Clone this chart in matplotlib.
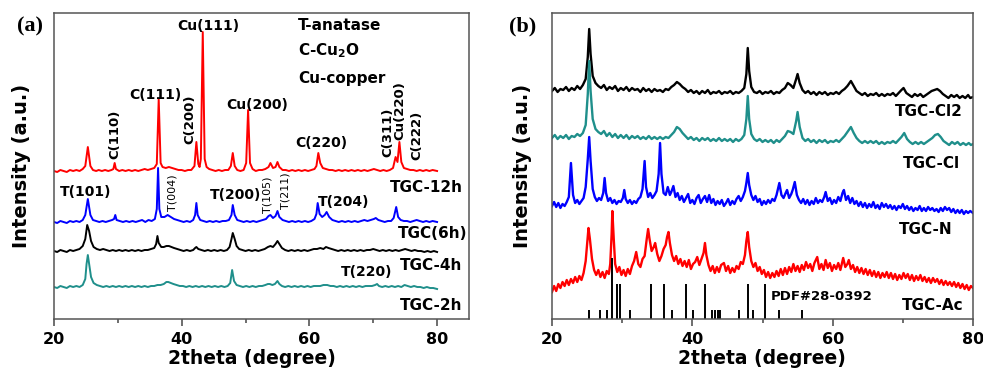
import numpy as np
import matplotlib
matplotlib.use("Agg")
from matplotlib import pyplot as plt

# panel (a): 2theta, intensity (offset, arbitrary units)
tgc_12h = [(20, 148), (20.5, 147), (21, 149), (21.5, 148), (22, 147), (22.5, 149), (23, 148), (23.5, 149),
           (24, 148), (24.5, 150), (24.9, 153), (25.3, 172), (25.7, 153), (26.1, 149), (26.6, 148), (27, 149),
           (27.5, 148), (28, 149), (28.5, 148), (29, 149), (29.3, 150), (29.5, 156), (29.7, 150), (30.2, 148),
           (30.7, 149), (31.2, 148), (31.7, 149), (32.2, 148), (32.7, 149), (33.2, 148), (33.7, 149), (34.2, 150),
           (34.7, 149), (35.2, 150), (35.7, 151), (36.1, 155), (36.4, 220), (36.7, 156), (37, 152), (37.5, 151),
           (38, 152), (38.5, 151), (39, 150), (39.5, 149), (40, 149), (40.5, 148), (41, 149), (41.5, 149),
           (42, 153), (42.3, 177), (42.6, 155), (42.8, 152), (43.0, 160), (43.3, 287), (43.6, 160), (43.9, 152),
           (44.3, 150), (44.8, 149), (45.3, 148), (45.8, 149), (46.3, 148), (46.8, 149), (47.3, 149), (47.7, 153),
           (48, 166), (48.3, 153), (48.7, 149), (49.2, 148), (49.7, 149), (50.1, 156), (50.4, 209), (50.7, 156),
           (51.1, 150), (51.6, 148), (52.1, 149), (52.6, 149), (53.1, 150), (53.6, 152), (53.9, 156), (54.3, 151),
           (54.7, 152), (55, 157), (55.3, 152), (55.8, 149), (56.3, 149), (56.8, 148), (57.3, 149), (57.8, 148),
           (58.3, 149), (58.8, 148), (59.3, 149), (59.8, 148), (60.3, 149), (60.8, 150), (61.1, 153), (61.4, 166),
           (61.7, 156), (62.1, 151), (62.6, 150), (63.1, 149), (63.6, 149), (64.1, 148), (64.6, 149), (65.1, 148),
           (65.6, 149), (66.1, 148), (66.6, 149), (67.1, 148), (67.6, 149), (68.1, 148), (68.6, 149), (69.1, 148),
           (69.6, 149), (70.1, 150), (70.6, 149), (71.1, 148), (71.6, 149), (72.1, 148), (72.6, 149), (73.1, 151),
           (73.5, 162), (73.8, 157), (74.1, 177), (74.4, 157), (74.8, 151), (75.3, 150), (75.8, 149), (76.3, 149),
           (76.8, 148), (77.3, 149), (77.8, 148), (78.3, 149), (78.8, 148), (79.3, 149), (80, 148)]

tgc_6h = [(20, 97), (20.5, 96), (21, 98), (21.5, 97), (22, 96), (22.5, 98), (23, 97), (23.5, 98), (24, 97),
          (24.5, 99), (24.9, 104), (25.3, 120), (25.7, 104), (26.1, 99), (26.6, 98), (27.1, 97), (27.6, 98),
          (28.1, 97), (28.6, 98), (29.1, 99), (29.4, 100), (29.6, 104), (29.8, 99), (30.3, 98), (30.8, 97),
          (31.3, 98), (31.8, 97), (32.3, 98), (32.8, 97), (33.3, 98), (33.8, 99), (34.3, 97), (34.8, 99),
          (35.3, 98), (35.8, 100), (36.1, 110), (36.3, 151), (36.5, 110), (36.8, 102), (37.3, 102), (37.8, 104),
          (38.3, 102), (38.8, 100), (39.3, 99), (39.8, 98), (40.3, 97), (40.8, 98), (41.3, 97), (41.8, 99),
          (42.1, 104), (42.3, 116), (42.5, 104), (42.9, 99), (43.4, 98), (43.9, 97), (44.4, 98), (44.9, 97),
          (45.4, 98), (45.9, 97), (46.4, 98), (46.9, 98), (47.4, 99), (47.8, 104), (48.0, 114), (48.3, 104),
          (48.7, 99), (49.2, 98), (49.7, 97), (50.2, 98), (50.7, 97), (51.2, 98), (51.7, 97), (52.2, 98),
          (52.7, 99), (53.2, 100), (53.6, 103), (53.9, 104), (54.3, 101), (54.7, 103), (55.0, 108), (55.3, 102),
          (55.8, 99), (56.3, 98), (56.8, 97), (57.3, 98), (57.8, 97), (58.3, 98), (58.8, 97), (59.3, 98),
          (59.8, 97), (60.3, 98), (60.8, 100), (61.1, 105), (61.3, 116), (61.6, 105), (62.0, 102), (62.4, 104),
          (62.7, 107), (63.1, 102), (63.6, 99), (64.1, 98), (64.6, 97), (65.1, 98), (65.6, 97), (66.1, 98),
          (66.6, 97), (67.1, 98), (67.6, 97), (68.1, 98), (68.6, 99), (69.1, 98), (69.6, 99), (70.1, 100),
          (70.4, 101), (70.8, 99), (71.3, 98), (71.8, 97), (72.3, 98), (72.8, 98), (73.2, 101), (73.6, 112),
          (73.9, 102), (74.3, 99), (74.8, 98), (75.3, 98), (75.8, 97), (76.3, 98), (76.8, 99), (77.3, 98),
          (77.8, 97), (78.3, 98), (78.8, 97), (79.3, 98), (80, 97)]

tgc_4h = [(20, 68), (20.5, 67), (21, 69), (21.5, 68), (22, 67), (22.5, 69), (23, 68), (23.5, 69), (24, 70),
          (24.5, 73), (24.9, 80), (25.2, 94), (25.5, 88), (25.8, 78), (26.2, 72), (26.7, 70), (27.2, 69),
          (27.7, 70), (28.2, 69), (28.7, 68), (29.2, 69), (29.7, 68), (30.2, 69), (30.7, 68), (31.2, 69),
          (31.7, 68), (32.2, 69), (32.7, 68), (33.2, 69), (33.7, 68), (34.2, 69), (34.7, 69), (35.2, 70),
          (35.7, 71), (36.0, 75), (36.2, 83), (36.4, 76), (36.8, 72), (37.2, 72), (37.6, 73), (38.0, 73),
          (38.4, 72), (38.8, 71), (39.3, 70), (39.8, 69), (40.3, 68), (40.8, 69), (41.3, 68), (41.8, 69),
          (42.1, 71), (42.3, 72), (42.6, 70), (43.1, 69), (43.6, 68), (44.1, 69), (44.6, 68), (45.1, 69),
          (45.6, 68), (46.1, 69), (46.6, 68), (47.1, 69), (47.5, 72), (47.8, 80), (48.0, 86), (48.3, 80),
          (48.6, 73), (49.0, 70), (49.5, 69), (50.0, 68), (50.5, 69), (51.0, 68), (51.5, 69), (52.0, 68),
          (52.5, 69), (53.0, 70), (53.5, 72), (53.9, 73), (54.3, 72), (54.7, 75), (55.0, 78), (55.3, 75),
          (55.7, 71), (56.2, 69), (56.7, 68), (57.2, 69), (57.7, 68), (58.2, 69), (58.7, 68), (59.2, 69),
          (59.7, 68), (60.2, 69), (60.7, 70), (61.2, 70), (61.7, 71), (62.2, 70), (62.6, 72), (63.0, 71),
          (63.5, 70), (64.0, 69), (64.5, 68), (65.0, 69), (65.5, 68), (66.0, 69), (66.5, 68), (67.0, 69),
          (67.5, 68), (68.0, 69), (68.5, 68), (69.0, 69), (69.5, 69), (70.0, 70), (70.5, 69), (71.0, 68),
          (71.5, 69), (72.0, 68), (72.5, 69), (73.0, 68), (73.5, 69), (74.0, 68), (74.5, 69), (75.0, 70),
          (75.5, 69), (76.0, 68), (76.5, 69), (77.0, 68), (77.5, 68), (78.0, 67), (78.5, 68), (79.0, 67),
          (79.5, 68), (80, 67)]

tgc_2h = [(20, 32), (20.5, 31), (21, 33), (21.5, 32), (22, 31), (22.5, 33), (23, 32), (23.5, 33), (24, 32),
          (24.5, 34), (24.9, 40), (25.1, 55), (25.3, 64), (25.5, 55), (25.8, 42), (26.2, 36), (26.7, 34),
          (27.2, 33), (27.7, 32), (28.2, 33), (28.7, 32), (29.2, 33), (29.7, 32), (30.2, 33), (30.7, 32),
          (31.2, 33), (31.7, 32), (32.2, 33), (32.7, 32), (33.2, 33), (33.7, 32), (34.2, 33), (34.7, 32),
          (35.2, 33), (35.7, 33), (36.2, 34), (36.7, 34), (37.2, 35), (37.6, 37), (37.9, 37), (38.3, 36),
          (38.7, 35), (39.2, 34), (39.7, 33), (40.2, 33), (40.7, 32), (41.2, 33), (41.7, 32), (42.2, 33),
          (42.7, 32), (43.2, 33), (43.7, 32), (44.2, 33), (44.7, 32), (45.2, 33), (45.7, 32), (46.2, 33),
          (46.7, 32), (47.2, 33), (47.6, 36), (47.9, 49), (48.2, 38), (48.6, 34), (49.1, 33), (49.6, 32),
          (50.1, 33), (50.6, 32), (51.1, 33), (51.6, 32), (52.1, 33), (52.6, 33), (53.1, 34), (53.5, 35),
          (53.8, 35), (54.2, 34), (54.6, 35), (55.0, 38), (55.3, 35), (55.7, 33), (56.2, 32), (56.7, 33),
          (57.2, 32), (57.7, 33), (58.2, 32), (58.7, 33), (59.2, 32), (59.7, 33), (60.2, 32), (60.7, 33),
          (61.2, 33), (61.7, 33), (62.2, 34), (62.8, 34), (63.3, 33), (63.8, 33), (64.3, 32), (64.8, 33),
          (65.3, 32), (65.8, 33), (66.3, 32), (66.8, 33), (67.3, 32), (67.8, 33), (68.3, 32), (68.8, 33),
          (69.3, 33), (69.8, 33), (70.3, 34), (70.6, 35), (70.9, 33), (71.4, 32), (71.9, 33), (72.4, 32),
          (72.9, 33), (73.4, 32), (73.9, 33), (74.4, 32), (74.9, 34), (75.4, 33), (75.9, 32), (76.4, 33),
          (76.9, 32), (77.4, 32), (77.9, 31), (78.4, 32), (78.9, 31), (79.4, 31), (80, 30)]

# panel (b)
tgc_cl2 = [(20.0, 228), (20.4, 231), (20.8, 227), (21.2, 230), (21.6, 229), (22.0, 232), (22.4, 228), (22.8, 231),
           (23.2, 229), (23.6, 233), (24.0, 230), (24.4, 234), (24.8, 240), (25.1, 262), (25.3, 290), (25.5, 265),
           (25.8, 243), (26.2, 236), (26.6, 233), (27.0, 231), (27.4, 234), (27.8, 229), (28.2, 232), (28.6, 230),
           (29.0, 233), (29.4, 228), (29.8, 231), (30.2, 229), (30.6, 232), (31.0, 228), (31.4, 231), (31.8, 229),
           (32.2, 230), (32.6, 227), (33.0, 231), (33.4, 228), (33.8, 230), (34.2, 227), (34.6, 230), (35.0, 228),
           (35.4, 229), (35.8, 227), (36.2, 230), (36.6, 229), (37.0, 232), (37.4, 234), (37.8, 237), (38.2, 235),
           (38.6, 232), (39.0, 230), (39.4, 227), (39.8, 229), (40.2, 226), (40.6, 228), (41.0, 225), (41.4, 228),
           (41.8, 226), (42.2, 229), (42.6, 225), (43.0, 227), (43.4, 226), (43.8, 228), (44.2, 225), (44.6, 227),
           (45.0, 226), (45.4, 228), (45.8, 225), (46.2, 227), (46.6, 226), (47.0, 228), (47.4, 231), (47.7, 245),
           (47.9, 271), (48.1, 248), (48.4, 232), (48.8, 227), (49.2, 226), (49.6, 228), (50.0, 225), (50.4, 227),
           (50.8, 226), (51.2, 228), (51.6, 225), (52.0, 227), (52.4, 226), (52.8, 229), (53.2, 231), (53.6, 236),
           (54.0, 234), (54.4, 231), (54.8, 240), (55.0, 245), (55.3, 236), (55.7, 229), (56.1, 226), (56.5, 228),
           (56.9, 225), (57.3, 227), (57.7, 224), (58.1, 227), (58.5, 225), (58.9, 227), (59.3, 224), (59.7, 226),
           (60.1, 225), (60.5, 227), (60.9, 225), (61.3, 228), (61.7, 230), (62.1, 233), (62.6, 238), (63.0, 233),
           (63.4, 228), (63.8, 226), (64.2, 224), (64.6, 226), (65.0, 223), (65.4, 225), (65.8, 224), (66.2, 226),
           (66.6, 223), (67.0, 225), (67.4, 223), (67.8, 225), (68.2, 224), (68.6, 226), (69.0, 223), (69.4, 226),
           (69.8, 229), (70.1, 231), (70.5, 226), (70.9, 224), (71.3, 222), (71.7, 225), (72.1, 223), (72.5, 225),
           (72.9, 222), (73.3, 224), (73.7, 226), (74.1, 228), (74.5, 229), (74.9, 230), (75.3, 228), (75.7, 225),
           (76.1, 223), (76.5, 221), (76.9, 224), (77.3, 222), (77.7, 224), (78.1, 221), (78.5, 223), (78.9, 221),
           (79.3, 224), (79.6, 221), (80.0, 222)]

tgc_cl = [(20.0, 181), (20.4, 184), (20.8, 180), (21.2, 183), (21.6, 181), (22.0, 184), (22.4, 180), (22.8, 183),
          (23.2, 182), (23.6, 185), (24.0, 183), (24.4, 186), (24.8, 194), (25.1, 225), (25.3, 258), (25.5, 228),
          (25.8, 200), (26.2, 190), (26.6, 187), (27.0, 185), (27.4, 188), (27.8, 183), (28.2, 186), (28.6, 182),
          (29.0, 185), (29.4, 181), (29.8, 184), (30.2, 181), (30.6, 184), (31.0, 180), (31.4, 183), (31.8, 181),
          (32.2, 183), (32.6, 180), (33.0, 182), (33.4, 180), (33.8, 183), (34.2, 180), (34.6, 182), (35.0, 180),
          (35.4, 182), (35.8, 180), (36.2, 182), (36.6, 181), (37.0, 184), (37.4, 187), (37.8, 192), (38.2, 190),
          (38.6, 186), (39.0, 183), (39.4, 180), (39.8, 182), (40.2, 179), (40.6, 181), (41.0, 178), (41.4, 181),
          (41.8, 179), (42.2, 181), (42.6, 178), (43.0, 180), (43.4, 178), (43.8, 181), (44.2, 178), (44.6, 180),
          (45.0, 178), (45.4, 180), (45.8, 177), (46.2, 180), (46.6, 178), (47.0, 180), (47.4, 184), (47.7, 200),
          (47.9, 223), (48.1, 200), (48.4, 185), (48.8, 180), (49.2, 178), (49.6, 180), (50.0, 177), (50.4, 179),
          (50.8, 177), (51.2, 179), (51.6, 176), (52.0, 179), (52.4, 177), (52.8, 180), (53.2, 183), (53.6, 188),
          (54.0, 187), (54.4, 185), (54.8, 198), (55.0, 207), (55.3, 192), (55.7, 181), (56.1, 178), (56.5, 180),
          (56.9, 177), (57.3, 179), (57.7, 176), (58.1, 179), (58.5, 177), (58.9, 179), (59.3, 176), (59.7, 178),
          (60.1, 177), (60.5, 179), (60.9, 177), (61.3, 180), (61.7, 183), (62.1, 187), (62.6, 192), (63.0, 186),
          (63.4, 181), (63.8, 178), (64.2, 176), (64.6, 178), (65.0, 176), (65.4, 178), (65.8, 176), (66.2, 178),
          (66.6, 175), (67.0, 177), (67.4, 175), (67.8, 177), (68.2, 176), (68.6, 178), (69.0, 176), (69.4, 179),
          (69.8, 182), (70.2, 186), (70.6, 180), (71.0, 177), (71.4, 175), (71.8, 177), (72.2, 175), (72.6, 177),
          (73.0, 175), (73.4, 177), (73.8, 179), (74.2, 181), (74.6, 184), (75.0, 185), (75.4, 182), (75.8, 178),
          (76.2, 176), (76.6, 174), (77.0, 177), (77.4, 175), (77.8, 177), (78.2, 174), (78.6, 176), (79.0, 174),
          (79.4, 176), (79.7, 174), (80.0, 175)]

tgc_n = [(20.0, 113), (20.3, 117), (20.6, 112), (20.9, 116), (21.2, 111), (21.5, 115), (21.8, 113), (22.1, 117),
         (22.4, 122), (22.7, 156), (23.0, 124), (23.3, 116), (23.6, 119), (23.9, 115), (24.2, 118), (24.5, 121),
         (24.8, 132), (25.1, 160), (25.3, 182), (25.5, 158), (25.8, 130), (26.1, 122), (26.4, 118), (26.7, 121),
         (27.0, 119), (27.3, 126), (27.5, 141), (27.7, 126), (28.0, 118), (28.3, 121), (28.6, 116), (28.9, 119),
         (29.2, 115), (29.5, 118), (29.8, 117), (30.1, 121), (30.3, 129), (30.5, 120), (30.8, 116), (31.1, 119),
         (31.4, 115), (31.7, 118), (32.0, 116), (32.3, 120), (32.6, 122), (32.9, 130), (33.2, 158), (33.4, 132),
         (33.7, 122), (34.0, 126), (34.3, 121), (34.6, 124), (34.9, 128), (35.2, 145), (35.4, 176), (35.6, 145),
         (35.9, 126), (36.2, 124), (36.5, 132), (36.8, 124), (37.0, 127), (37.3, 133), (37.6, 122), (37.9, 126),
         (38.2, 119), (38.5, 123), (38.8, 117), (39.1, 121), (39.4, 125), (39.7, 116), (40.0, 119), (40.3, 115),
         (40.6, 121), (40.9, 124), (41.2, 116), (41.5, 120), (41.8, 123), (42.1, 117), (42.4, 124), (42.7, 116),
         (43.0, 120), (43.3, 114), (43.6, 118), (43.9, 115), (44.2, 119), (44.5, 113), (44.8, 116), (45.1, 120),
         (45.4, 114), (45.7, 118), (46.0, 115), (46.3, 120), (46.6, 123), (46.9, 118), (47.2, 122), (47.5, 128),
         (47.7, 136), (47.9, 146), (48.1, 134), (48.4, 124), (48.7, 119), (49.0, 123), (49.3, 117), (49.6, 120),
         (49.9, 114), (50.2, 118), (50.5, 115), (50.8, 119), (51.1, 116), (51.4, 120), (51.7, 118), (52.0, 124),
         (52.4, 136), (52.7, 124), (53.0, 121), (53.3, 126), (53.5, 129), (53.8, 121), (54.1, 125), (54.3, 129),
         (54.6, 137), (54.9, 124), (55.2, 119), (55.5, 116), (55.8, 120), (56.1, 115), (56.4, 119), (56.7, 114),
         (57.0, 118), (57.3, 115), (57.6, 121), (57.9, 116), (58.2, 119), (58.5, 117), (58.8, 122), (59.0, 127),
         (59.3, 118), (59.6, 121), (59.9, 115), (60.2, 119), (60.5, 116), (60.8, 122), (61.1, 118), (61.4, 126),
         (61.6, 129), (61.9, 119), (62.2, 123), (62.5, 116), (62.8, 121), (63.1, 115), (63.4, 118), (63.7, 113),
         (64.0, 117), (64.3, 112), (64.6, 116), (64.9, 111), (65.2, 115), (65.5, 112), (65.8, 117), (66.1, 111),
         (66.4, 114), (66.7, 110), (67.0, 116), (67.3, 112), (67.6, 115), (67.9, 111), (68.2, 114), (68.5, 110),
         (68.8, 113), (69.1, 109), (69.4, 113), (69.7, 111), (70.0, 115), (70.3, 110), (70.6, 113), (70.9, 109),
         (71.2, 112), (71.5, 108), (71.8, 111), (72.1, 109), (72.4, 113), (72.7, 108), (73.0, 111), (73.3, 108),
         (73.6, 112), (73.9, 109), (74.2, 111), (74.5, 108), (74.8, 110), (75.1, 107), (75.4, 111), (75.7, 108),
         (76.0, 112), (76.3, 109), (76.6, 111), (76.9, 107), (77.2, 110), (77.5, 106), (77.8, 109), (78.1, 106),
         (78.4, 109), (78.7, 105), (79.0, 108), (79.3, 106), (79.6, 108), (80.0, 106)]

tgc_ac = [(20.0, 27), (20.3, 33), (20.6, 28), (20.9, 35), (21.2, 31), (21.5, 37), (21.8, 33), (22.1, 39), (22.4, 34),
          (22.7, 40), (23.0, 36), (23.3, 42), (23.6, 37), (23.9, 43), (24.2, 39), (24.5, 46), (24.8, 58), (25.0, 75),
          (25.2, 91), (25.4, 80), (25.7, 60), (26.0, 49), (26.3, 44), (26.6, 49), (26.9, 42), (27.2, 47), (27.5, 41),
          (27.8, 48), (28.1, 45), (28.3, 55), (28.5, 85), (28.6, 108), (28.8, 80), (29.0, 55), (29.3, 47), (29.6, 52),
          (29.9, 44), (30.2, 49), (30.5, 43), (30.8, 50), (31.1, 45), (31.4, 53), (31.7, 58), (32.0, 67), (32.3, 55),
          (32.6, 52), (32.9, 60), (33.2, 63), (33.5, 80), (33.7, 90), (33.9, 80), (34.2, 68), (34.5, 72), (34.7, 76),
          (35.0, 65), (35.3, 58), (35.6, 63), (35.9, 70), (36.2, 74), (36.4, 82), (36.6, 87), (36.8, 76), (37.1, 64),
          (37.4, 58), (37.7, 63), (38.0, 55), (38.3, 60), (38.6, 53), (38.9, 58), (39.2, 52), (39.5, 59), (39.8, 50),
          (40.1, 55), (40.4, 57), (40.7, 62), (41.0, 54), (41.3, 60), (41.6, 66), (41.8, 76), (42.0, 64), (42.3, 54),
          (42.6, 48), (42.9, 53), (43.2, 46), (43.5, 52), (43.8, 47), (44.1, 54), (44.5, 56), (44.8, 48), (45.1, 53),
          (45.4, 46), (45.7, 51), (46.0, 47), (46.3, 53), (46.6, 50), (46.9, 57), (47.2, 55), (47.5, 64), (47.7, 78),
          (47.9, 87), (48.1, 72), (48.4, 58), (48.7, 52), (49.0, 56), (49.3, 48), (49.6, 52), (49.9, 45), (50.2, 49),
          (50.5, 42), (50.8, 47), (51.1, 41), (51.4, 46), (51.7, 42), (52.0, 48), (52.3, 43), (52.6, 50), (52.9, 44),
          (53.2, 51), (53.5, 45), (53.8, 52), (54.1, 47), (54.4, 55), (54.7, 48), (55.0, 53), (55.3, 47), (55.6, 54),
          (55.9, 49), (56.2, 57), (56.5, 51), (56.8, 55), (57.1, 48), (57.4, 56), (57.8, 62), (58.1, 50), (58.4, 55),
          (58.7, 49), (59.0, 59), (59.3, 51), (59.6, 56), (59.9, 48), (60.2, 54), (60.5, 50), (60.8, 56), (61.1, 49),
          (61.5, 61), (61.8, 52), (62.1, 55), (62.3, 59), (62.6, 50), (62.9, 54), (63.2, 47), (63.5, 52), (63.8, 46),
          (64.1, 51), (64.4, 45), (64.7, 50), (65.0, 44), (65.3, 49), (65.6, 43), (65.9, 48), (66.2, 42), (66.5, 47),
          (66.8, 41), (67.1, 46), (67.4, 42), (67.7, 47), (68.0, 41), (68.3, 46), (68.6, 40), (68.9, 45), (69.2, 39),
          (69.5, 44), (69.8, 40), (70.1, 46), (70.4, 41), (70.7, 45), (71.0, 39), (71.3, 44), (71.6, 38), (71.9, 43),
          (72.2, 39), (72.5, 44), (72.8, 38), (73.1, 42), (73.4, 37), (73.7, 41), (74.0, 36), (74.3, 41), (74.6, 37),
          (74.9, 40), (75.2, 35), (75.5, 39), (75.8, 34), (76.1, 38), (76.4, 34), (76.7, 37), (77.0, 33), (77.3, 37),
          (77.6, 32), (77.9, 36), (78.2, 31), (78.5, 35), (78.8, 30), (79.1, 34), (79.4, 29), (79.7, 33), (80.0, 31)]

# PDF#28-0392 reference lines
pdf_pos = [25.3, 26.9, 27.9, 28.5, 29.3, 29.7, 31.1, 34.1, 35.9, 37.1, 39.1, 40.1, 41.8, 42.8, 43.3, 43.6, 44.0,
           46.6, 47.9, 48.7, 50.3, 52.3, 55.6]
pdf_int = [9, 9, 9, 61, 35, 35, 9, 35, 35, 9, 35, 9, 35, 9, 9, 9, 9, 9, 35, 9, 35, 9, 9]

teal = '#1f8f8b'
frame = '#555555'
font = 'DejaVu Sans'

W, H = 983, 377
fig = plt.figure(figsize=(W / 100, H / 100), dpi=100)
ax1 = fig.add_axes([54 / W, (H - 319) / H, (469 - 54) / W, (319 - 13) / H])
ax2 = fig.add_axes([552 / W, (H - 319) / H, (973 - 552) / W, (319 - 13) / H])


def draw(ax, data, color, lw):
    xs, ys = zip(*data)
    ax.plot(xs, ys, color=color, lw=lw)


draw(ax1, tgc_12h, 'red', 1.4)
draw(ax1, tgc_6h, 'blue', 1.4)
draw(ax1, tgc_4h, 'black', 1.4)
draw(ax1, tgc_2h, teal, 1.4)

draw(ax2, tgc_cl2, 'black', 1.7)
draw(ax2, tgc_cl, teal, 1.7)
draw(ax2, tgc_n, 'blue', 1.7)
draw(ax2, tgc_ac, 'red', 1.7)
ax2.vlines(pdf_pos, 0, pdf_int, color='black', lw=1.4)

ax1.set_xlim(20, 85)
ax2.set_xlim(20, 80)
for ax in (ax1, ax2):
    ax.set_ylim(0, 306)
    ax.set_yticks([])
    ax.set_xticks([20, 40, 60, 80])
    ax.set_xticks([30, 50, 70], minor=True)
    ax.tick_params(axis='x', which='major', length=5, width=1.2, color=frame, pad=4,
                   labelsize=11.5)
    ax.tick_params(axis='x', which='minor', length=3, width=1.2, color=frame)
    for lab in ax.get_xticklabels():
        lab.set_fontweight('bold')
        lab.set_family(font)
    for s in ax.spines.values():
        s.set_color(frame)
        s.set_linewidth(1.1)

# axis labels
for xc in (252, 762):
    fig.text(xc / W, 1 - 358 / H, '2theta (degree)', ha='center', va='center',
             fontsize=13.5, fontweight='bold', family=font)
for xc in (22, 522):
    fig.text(xc / W, 1 - 166 / H, 'Intensity (a.u.)', ha='center', va='center', rotation=90,
             fontsize=14, fontweight='bold', family=font)

fig.text(30 / W, 1 - 26 / H, '(a)', ha='center', va='center', fontsize=16, fontweight='bold',
         family='Liberation Serif')
fig.text(523 / W, 1 - 26 / H, '(b)', ha='center', va='center', fontsize=16, fontweight='bold',
         family='Liberation Serif')

lab = dict(fontweight='bold', family=font, va='center')

# panel (a) annotations
ax1.text(58.2, 293, 'T-anatase', ha='left', fontsize=11, **lab)
ax1.text(58.2, 268, r'C-Cu$_\mathbf{2}$O', ha='left', fontsize=11, **lab)
ax1.text(58.2, 240, 'Cu-copper', ha='left', fontsize=11, **lab)

ax1.text(44.2, 293, 'Cu(111)', ha='center', fontsize=10, **lab)
ax1.text(35.8, 224, 'C(111)', ha='center', fontsize=10, **lab)
ax1.text(51.8, 214, 'Cu(200)', ha='center', fontsize=10, **lab)
ax1.text(61.8, 176, 'C(220)', ha='center', fontsize=10, **lab)
ax1.text(41.3, 200, 'C(200)', ha='center', rotation=90, fontsize=9.5, **lab)
ax1.text(29.6, 185, 'C(110)', ha='center', rotation=90, fontsize=9.5, **lab)
ax1.text(72.3, 187, 'C(311)', ha='center', rotation=90, fontsize=9.5, **lab)
ax1.text(74.2, 208, 'Cu(220)', ha='center', rotation=90, fontsize=9.5, **lab)
ax1.text(76.9, 184, 'C(222)', ha='center', rotation=90, fontsize=9.5, **lab)

ax1.text(25.0, 127, 'T(101)', ha='center', fontsize=10, **lab)
ax1.text(48.5, 124, 'T(200)', ha='center', fontsize=10, **lab)
ax1.text(65.3, 117, 'T(204)', ha='center', fontsize=10, **lab)
ax1.text(68.9, 47, 'T(220)', ha='center', fontsize=10, **lab)
ax1.text(38.6, 126, 'T(004)', ha='center', va='center', rotation=90, fontsize=8, family=font)
ax1.text(53.5, 124, 'T(105)', ha='center', va='center', rotation=90, fontsize=8, family=font)
ax1.text(56.2, 128, 'T(211)', ha='center', va='center', rotation=90, fontsize=8, family=font)

ax1.text(84.1, 132, 'TGC-12h', ha='right', fontsize=11, **lab)
ax1.text(84.7, 86, 'TGC(6h)', ha='right', fontsize=11, **lab)
ax1.text(83.9, 54, 'TGC-4h', ha='right', fontsize=11, **lab)
ax1.text(84.0, 13, 'TGC-2h', ha='right', fontsize=11, **lab)

# panel (b) annotations
ax2.text(78.6, 207, 'TGC-Cl2', ha='right', fontsize=11, **lab)
ax2.text(78.1, 156, 'TGC-Cl', ha='right', fontsize=11, **lab)
ax2.text(77.1, 90, 'TGC-N', ha='right', fontsize=11, **lab)
ax2.text(78.6, 14, 'TGC-Ac', ha='right', fontsize=11, **lab)
ax2.text(51.2, 22, 'PDF#28-0392', ha='left', fontsize=9.5, **lab)

fig.savefig('out.png', dpi=100)
